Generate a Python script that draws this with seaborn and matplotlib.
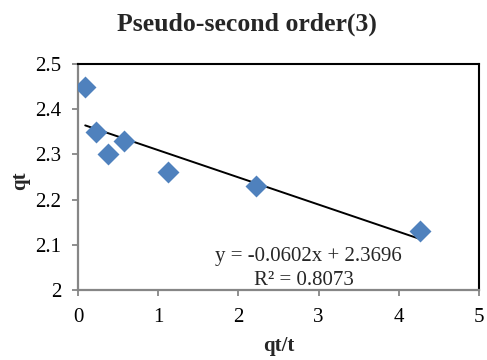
import matplotlib
matplotlib.use("Agg")
import matplotlib.pyplot as plt
import seaborn as sns
import numpy as np
import pandas as pd

# qt/t versus qt for the pseudo-second order fit, run 3
qt_over_t = [0.09, 0.22, 0.38, 0.57, 1.12, 2.22, 4.26]
qt = [2.45, 2.35, 2.30, 2.33, 2.26, 2.23, 2.13]

# linear trendline coefficients and fit quality
slope = -0.0602
intercept = 2.3696
r_squared = 0.8073

x_ticks = [0, 1, 2, 3, 4, 5]
y_ticks = [2.0, 2.1, 2.2, 2.3, 2.4, 2.5]

sns.set_style("white")
plt.rcParams["font.family"] = ["Liberation Serif", "DejaVu Serif"]

W, H = 487, 360
fig = plt.figure(figsize=(W / 100, H / 100), dpi=100)
left, right, top, bottom = 78, 479, 64, 290
ax = fig.add_axes([left / W, 1 - bottom / H, (right - left) / W, (bottom - top) / H])

df = pd.DataFrame({"qt/t": qt_over_t, "qt": qt})
sns.scatterplot(data=df, x="qt/t", y="qt", marker="D", s=125, color="#4F81BD",
                linewidth=0, ax=ax, zorder=3)

# trendline across the range of the data
xs = np.array([min(qt_over_t), max(qt_over_t)])
ax.plot(xs, slope * xs + intercept, color="black", lw=1.4, zorder=2)

ax.set_xlim(0, 5)
ax.set_ylim(2.0, 2.5)
ax.set_xticks(x_ticks)
ax.set_yticks(y_ticks)
ax.set_xticklabels([f"{v:g}" for v in x_ticks])
ax.set_yticklabels([f"{v:g}" for v in y_ticks])

gray = "#868686"
for side in ("left", "bottom"):
    ax.spines[side].set_color(gray)
    ax.spines[side].set_linewidth(1.6)
for side in ("top", "right"):
    ax.spines[side].set_color("black")
    ax.spines[side].set_linewidth(1.5)
ax.tick_params(axis="both", direction="out", length=4, width=1.3, color=gray,
               labelsize=15, labelcolor="black")
ax.tick_params(axis="y", pad=8)
ax.tick_params(axis="x", pad=9)
ax.tick_params(left=True, bottom=True)

ax.set_xlabel("")
ax.set_ylabel("")
fig.text(279 / W, 1 - 351 / H, "qt/t", ha="center", va="baseline",
         fontsize=15, fontweight="bold")
fig.text(20 / W, 1 - 181 / H, "qt", ha="center", va="center", rotation=90,
         fontsize=15, fontweight="bold")
fig.text(246.5 / W, 1 - 30.7 / H, "Pseudo-second order(3)", ha="center",
         va="baseline", fontsize=18.5, fontweight="bold")

sign = "+" if intercept >= 0 else "-"
ax.text(2.87, 2.065, f"y = {slope:.4f}x {sign} {abs(intercept):.4f}",
        ha="center", va="baseline", fontsize=15)
ax.text(2.82, 2.011, f"R² = {r_squared:.4f}", ha="center", va="baseline",
        fontsize=15)

fig.savefig("out.png", dpi=100)
